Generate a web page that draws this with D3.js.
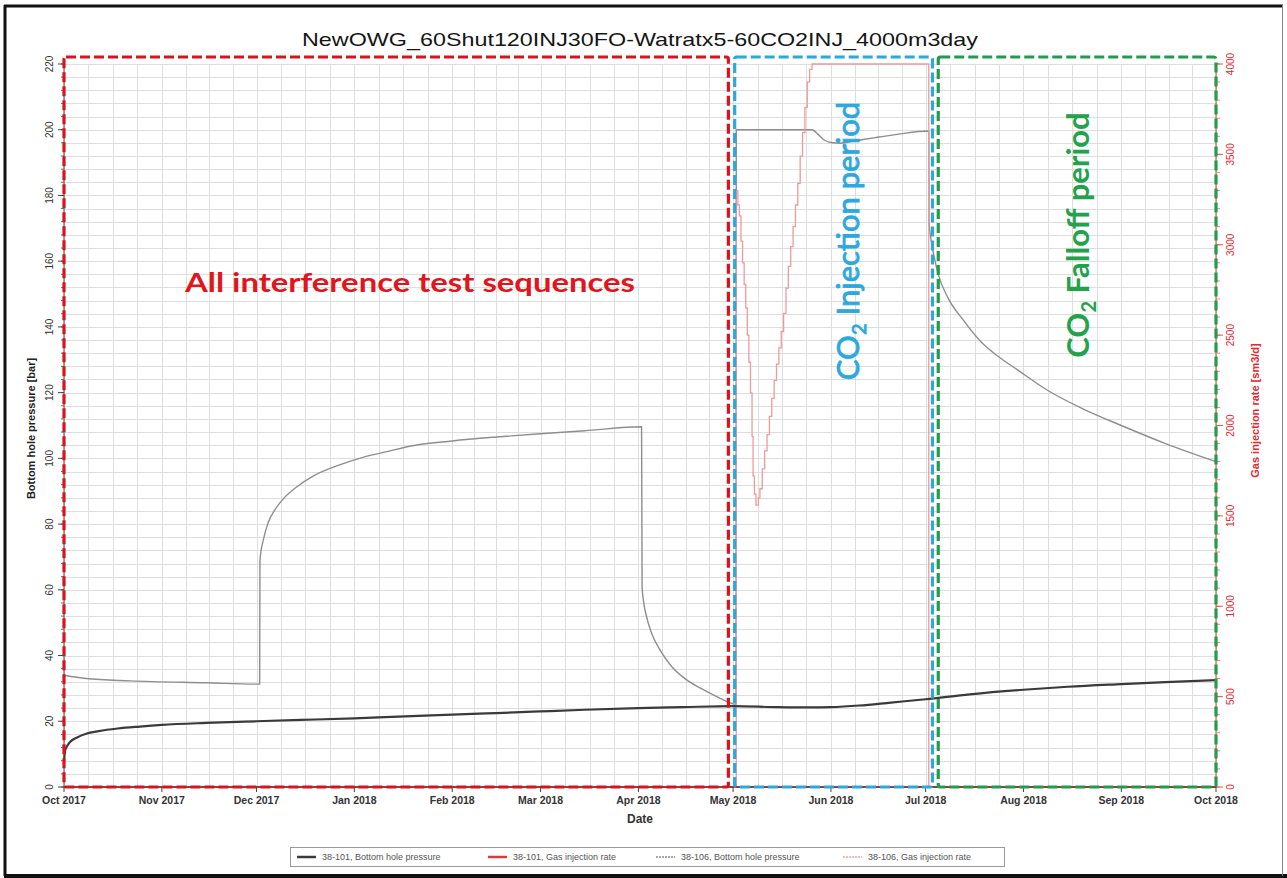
<!DOCTYPE html>
<html>
<head>
<meta charset="utf-8">
<script src="https://cdn.jsdelivr.net/npm/d3@7/dist/d3.min.js"></script>
<style>
  html, body { margin: 0; padding: 0; background: #fff; }
  svg { display: block; }
</style>
</head>
<body>
<svg id="chart" width="1287" height="878"></svg>
<script>
// ---- Data -------------------------------------------------------------
const chartTitle = "NewOWG_60Shut120INJ30FO-Watratx5-60CO2INJ_4000m3day";

// 38-101 bottom hole pressure [bar]
const bhp101 = [
  ["2017-10-01T00:00", 7.5], ["2017-10-01T08:00", 11.0], ["2017-10-02", 12.5],
  ["2017-10-03", 13.8], ["2017-10-05", 15.0], ["2017-10-08", 16.2],
  ["2017-10-12", 17.0], ["2017-10-18", 17.8], ["2017-10-25", 18.4],
  ["2017-11-01", 18.9], ["2017-11-15", 19.5], ["2017-12-01", 20.0],
  ["2017-12-15", 20.4], ["2018-01-01", 20.9], ["2018-01-15", 21.4],
  ["2018-02-01", 22.0], ["2018-02-15", 22.5], ["2018-03-01", 23.0],
  ["2018-03-15", 23.5], ["2018-04-01", 24.0], ["2018-04-15", 24.3],
  ["2018-05-01", 24.6], ["2018-05-15", 24.3], ["2018-05-25", 24.2],
  ["2018-06-01", 24.3], ["2018-06-10", 24.8], ["2018-06-20", 25.7],
  ["2018-07-01", 26.7], ["2018-07-15", 28.2], ["2018-08-01", 29.6],
  ["2018-08-15", 30.5], ["2018-09-01", 31.3], ["2018-09-15", 31.9],
  ["2018-10-01", 32.5]
];

// 38-101 gas injection rate [sm3/d]
const rate101 = [["2017-10-01", 0], ["2018-10-01", 0]];

// 38-106 bottom hole pressure [bar]
const bhp106 = [
  ["2017-10-01", 34.0], ["2017-10-08", 33.0], ["2017-10-22", 32.3],
  ["2017-11-15", 31.7], ["2017-12-02", 31.3],
  ["2017-12-02T02:00", 69.0], ["2017-12-03T05:00", 75.4], ["2017-12-04T17:00", 80.5],
  ["2017-12-06T22:00", 84.5], ["2017-12-10", 88.2], ["2017-12-13T17:00", 91.3],
  ["2017-12-18T22:00", 94.6], ["2017-12-26T10:00", 97.7], ["2018-01-03T17:00", 100.3],
  ["2018-01-12", 102.2], ["2018-01-18T12:00", 103.7], ["2018-02-01", 105.3],
  ["2018-02-15", 106.5], ["2018-03-01", 107.5], ["2018-03-15", 108.4],
  ["2018-04-02", 109.6],
  ["2018-04-02T04:00", 61.0], ["2018-04-02T14:00", 56.8], ["2018-04-03T14:00", 51.8],
  ["2018-04-05T05:00", 46.7], ["2018-04-07T22:00", 41.6], ["2018-04-11T14:00", 36.6],
  ["2018-04-16T07:00", 32.6], ["2018-04-21T14:00", 29.6], ["2018-04-26T22:00", 27.0],
  ["2018-05-01T22:00", 25.2],
  ["2018-05-02", 200.0], ["2018-05-26", 200.0], ["2018-05-28", 198.5],
  ["2018-05-30", 196.8], ["2018-06-01", 196.1], ["2018-06-04", 195.9],
  ["2018-06-08", 196.5], ["2018-06-15", 197.6], ["2018-06-22", 198.6],
  ["2018-07-02", 199.6],
  ["2018-07-02T02:00", 172.0], ["2018-07-03", 165.0], ["2018-07-04", 160.0],
  ["2018-07-05", 156.0], ["2018-07-08", 149.0], ["2018-07-13", 142.0],
  ["2018-07-19", 135.0], ["2018-07-24", 131.0], ["2018-07-30", 127.0],
  ["2018-08-09", 120.5], ["2018-08-20", 115.0], ["2018-09-01", 110.0],
  ["2018-09-15", 104.5], ["2018-10-01", 99.0]
];

// 38-106 gas injection rate [sm3/d] (piecewise constant)
const rate106 = [
  ["2017-10-01", 0],
  ["2018-05-02T00:00", 3300], ["2018-05-02T12:00", 3220], ["2018-05-03T00:00", 3160],
  ["2018-05-03T12:00", 3020], ["2018-05-04T00:00", 2900], ["2018-05-04T12:00", 2780],
  ["2018-05-05T00:00", 2650], ["2018-05-05T12:00", 2500], ["2018-05-06T00:00", 2350],
  ["2018-05-06T12:00", 2180], ["2018-05-07T00:00", 1940], ["2018-05-07T08:00", 1720],
  ["2018-05-07T18:00", 1620], ["2018-05-08T06:00", 1560],
  ["2018-05-09T00:00", 1600], ["2018-05-09T12:00", 1650], ["2018-05-10T06:00", 1760],
  ["2018-05-11T00:00", 1860], ["2018-05-11T18:00", 1950], ["2018-05-12T12:00", 2050],
  ["2018-05-13T06:00", 2150], ["2018-05-14T00:00", 2250], ["2018-05-14T18:00", 2340],
  ["2018-05-15T12:00", 2430], ["2018-05-16T06:00", 2520], ["2018-05-17T00:00", 2620],
  ["2018-05-17T18:00", 2760], ["2018-05-18T12:00", 2880], ["2018-05-19T06:00", 2990],
  ["2018-05-20T00:00", 3100], ["2018-05-20T18:00", 3220], ["2018-05-21T12:00", 3340],
  ["2018-05-22T06:00", 3490], ["2018-05-23T00:00", 3620], ["2018-05-23T18:00", 3760],
  ["2018-05-24T12:00", 3900], ["2018-05-25T06:00", 3970], ["2018-05-26T00:00", 4000],
  ["2018-07-02T00:00", 0], ["2018-10-01", 0]
];

const pressureTicks = d3.range(0, 221, 20);
const rateTicks = d3.range(0, 4001, 500);
const xDomain = ["2017-10-01", "2018-10-01"];

// Highlighted periods
const periods = [
  { name: "interference", start: "2017-10-01", end: "2018-04-29T12:00", color: "#d7141d" },
  { name: "injection",    start: "2018-05-01T12:00", end: "2018-07-03T04:00", color: "#2aa8e0" },
  { name: "falloff",      start: "2018-07-05T00:00", end: "2018-10-01", color: "#239b4c" }
];

const legendItems = [
  { label: "38-101, Bottom hole pressure", color: "#3a3a3a", width: 2.5, dash: null },
  { label: "38-101, Gas injection rate",   color: "#e0393c", width: 2.5, dash: null },
  { label: "38-106, Bottom hole pressure", color: "#8c8c8c", width: 1.5, dash: "2,1" },
  { label: "38-106, Gas injection rate",   color: "#f2a0a0", width: 1.5, dash: "2,1" }
];

// ---- Setup ------------------------------------------------------------
const parseT = s => d3.utcParse("%Y-%m-%dT%H:%M")(s.length === 10 ? s + "T00:00" : s);
const toPts = arr => arr.map(([t, v]) => ({ t: parseT(t), v }));

const svg = d3.select("#chart");
const plot = { left: 64, right: 1216, top: 64, bottom: 787 };

const x = d3.scaleUtc().domain(xDomain.map(parseT)).range([plot.left, plot.right]);
const yP = d3.scaleLinear().domain([0, 220]).range([plot.bottom, plot.top]);
const yR = d3.scaleLinear().domain([0, 4000]).range([plot.bottom, plot.top]);

// outer frame
svg.append("rect").attr("x", 0).attr("y", 0).attr("width", 1287).attr("height", 878).attr("fill", "#fff");
svg.append("line").attr("x1", 5).attr("x2", 5).attr("y1", 5).attr("y2", 876).attr("stroke", "#111").attr("stroke-width", 3);
svg.append("line").attr("x1", 4).attr("x2", 1283).attr("y1", 6).attr("y2", 6).attr("stroke", "#111").attr("stroke-width", 3);
svg.append("line").attr("x1", 4).attr("x2", 1287).attr("y1", 876).attr("y2", 876).attr("stroke", "#111").attr("stroke-width", 4);
svg.append("line").attr("x1", 1282.5).attr("x2", 1282.5).attr("y1", 5).attr("y2", 876).attr("stroke", "#888").attr("stroke-width", 1);

// title
svg.append("text")
  .attr("x", 640).attr("y", 46)
  .attr("text-anchor", "middle")
  .attr("font-family", "Liberation Sans, Arial, sans-serif")
  .attr("font-size", 19).attr("fill", "#151515")
  .attr("textLength", 676).attr("lengthAdjust", "spacingAndGlyphs")
  .text(chartTitle);

// ---- Grid -------------------------------------------------------------
const grid = svg.append("g").attr("stroke", "#dedede").attr("stroke-width", 1).attr("shape-rendering", "crispEdges");
const months = d3.utcMonth.range(x.domain()[0], x.domain()[1]);
const vGrid = [];
months.forEach(m => {
  const next = d3.utcMonth.offset(m, 1);
  for (let k = 0; k < 4; k++) vGrid.push(new Date(+m + k * (next - m) / 4));
});
vGrid.push(x.domain()[1]);
grid.selectAll("line.v").data(vGrid).join("line")
  .attr("x1", d => Math.round(x(d)) + 0.5).attr("x2", d => Math.round(x(d)) + 0.5)
  .attr("y1", plot.top).attr("y2", plot.bottom);
grid.selectAll("line.h").data(d3.range(0, 221, 4)).join("line")
  .attr("y1", d => Math.round(yP(d)) + 0.5).attr("y2", d => Math.round(yP(d)) + 0.5)
  .attr("x1", plot.left).attr("x2", plot.right);

// ---- Series -----------------------------------------------------------
const lineP = d3.line().x(d => x(d.t)).y(d => yP(d.v)).curve(d3.curveMonotoneX);
const lineR = d3.line().x(d => x(d.t)).y(d => yR(d.v)).curve(d3.curveStepAfter);

svg.append("path").datum(toPts(bhp106)).attr("d", lineP)
  .attr("fill", "none").attr("stroke", "#8e8e8e").attr("stroke-width", 1.4);
svg.append("path").datum(toPts(rate106)).attr("d", lineR)
  .attr("fill", "none").attr("stroke", "#f09a9a").attr("stroke-width", 1.3);
svg.append("path").datum(toPts(rate101)).attr("d", lineR)
  .attr("fill", "none").attr("stroke", "#e0393c").attr("stroke-width", 2);
svg.append("path").datum(toPts(bhp101)).attr("d", lineP)
  .attr("fill", "none").attr("stroke", "#3a3a3a").attr("stroke-width", 2.2);

// ---- Axes -------------------------------------------------------------
const axisFont = "Liberation Sans, Arial, sans-serif";

// left pressure axis
const gL = svg.append("g").attr("transform", `translate(${plot.left},0)`);
gL.append("line").attr("y1", plot.top).attr("y2", plot.bottom).attr("stroke", "#444");
gL.selectAll("line.mn").data(d3.range(0, 221, 4)).join("line")
  .attr("x1", -3).attr("x2", 0).attr("y1", d => yP(d)).attr("y2", d => yP(d)).attr("stroke", "#666");
gL.selectAll("line.mj").data(pressureTicks).join("line")
  .attr("x1", -6).attr("x2", 0).attr("y1", d => yP(d)).attr("y2", d => yP(d)).attr("stroke", "#444");
gL.selectAll("text").data(pressureTicks).join("text")
  .attr("transform", d => `translate(-11,${yP(d)}) rotate(-90)`)
  .attr("text-anchor", "middle")
  .attr("font-family", axisFont).attr("font-size", 10).attr("fill", "#333")
  .text(d => d);

svg.append("text")
  .attr("transform", `translate(35,${(plot.top + plot.bottom) / 2 + 3}) rotate(-90)`)
  .attr("text-anchor", "middle")
  .attr("font-family", axisFont).attr("font-size", 11).attr("font-weight", "bold").attr("fill", "#222")
  .text("Bottom hole pressure [bar]");

// right rate axis
const gR = svg.append("g").attr("transform", `translate(${plot.right},0)`);
gR.append("line").attr("y1", plot.top).attr("y2", plot.bottom).attr("stroke", "#e0393c");
gR.selectAll("line.mn").data(d3.range(0, 4001, 100)).join("line")
  .attr("x1", 0).attr("x2", 4).attr("y1", d => yR(d)).attr("y2", d => yR(d)).attr("stroke", "#ee8a6a");
gR.selectAll("line.mj").data(rateTicks).join("line")
  .attr("x1", 0).attr("x2", 7).attr("y1", d => yR(d)).attr("y2", d => yR(d)).attr("stroke", "#e55a3a");
gR.selectAll("text").data(rateTicks).join("text")
  .attr("transform", d => `translate(18,${yR(d)}) rotate(-90)`)
  .attr("text-anchor", "middle")
  .attr("font-family", axisFont).attr("font-size", 10).attr("fill", "#e8262b")
  .text(d => d);

svg.append("text")
  .attr("transform", `translate(1259,${(plot.top + plot.bottom) / 2 - 15}) rotate(-90)`)
  .attr("text-anchor", "middle")
  .attr("font-family", axisFont).attr("font-size", 11).attr("font-weight", "bold").attr("fill", "#e8262b")
  .text("Gas injection rate [sm3/d]");

// bottom date axis
const monthTicks = d3.utcMonth.range(x.domain()[0], d3.utcDay.offset(x.domain()[1], 1));
const gB = svg.append("g").attr("transform", `translate(0,${plot.bottom})`);
gB.append("line").attr("x1", plot.left).attr("x2", plot.right).attr("stroke", "#444");
gB.selectAll("line.t").data(monthTicks).join("line")
  .attr("x1", d => x(d)).attr("x2", d => x(d)).attr("y1", 0).attr("y2", 5).attr("stroke", "#444");
gB.selectAll("text").data(monthTicks).join("text")
  .attr("x", d => x(d)).attr("y", 17)
  .attr("text-anchor", "middle")
  .attr("font-family", axisFont).attr("font-size", 10.5).attr("font-weight", "bold").attr("fill", "#333")
  .text(d3.utcFormat("%b %Y"));

svg.append("text")
  .attr("x", 640).attr("y", 823)
  .attr("text-anchor", "middle")
  .attr("font-family", axisFont).attr("font-size", 12).attr("font-weight", "bold").attr("fill", "#333")
  .text("Date");

// ---- Highlighted periods ---------------------------------------------
svg.selectAll("rect.period").data(periods).join("rect")
  .attr("class", "period")
  .attr("x", d => x(parseT(d.start)))
  .attr("y", 57)
  .attr("width", d => x(parseT(d.end)) - x(parseT(d.start)))
  .attr("height", plot.bottom - 57)
  .attr("rx", 2)
  .attr("fill", "none")
  .attr("stroke", d => d.color)
  .attr("stroke-width", 3.2)
  .attr("stroke-dasharray", "10,4");

// period annotations
svg.append("text")
  .attr("x", 410).attr("y", 292)
  .attr("text-anchor", "middle")
  .attr("font-family", "Lato, 'Open Sans', sans-serif")
  .attr("font-size", 27).attr("font-weight", "bold").attr("fill", "#e3141c")
  .attr("textLength", 450).attr("lengthAdjust", "spacingAndGlyphs")
  .text("All interference test sequences");

function rotatedCO2(cx, cy, rest, color, family, size, weight, outline) {
  const t = svg.append("text")
    .attr("transform", `translate(${cx},${cy}) rotate(-90)`)
    .attr("text-anchor", "middle")
    .attr("font-family", family)
    .attr("font-size", size).attr("font-weight", weight).attr("fill", color)
    .attr("stroke", outline ? color : null).attr("stroke-width", outline || null);
  t.append("tspan").text("CO");
  t.append("tspan").attr("font-size", Math.round(size * 0.65)).attr("dy", 7).text("2");
  t.append("tspan").attr("dy", -7).text(" " + rest);
  return t;
}
rotatedCO2(859, 241, "Injection period", "#2aa8e0", "Lato, 'Open Sans', sans-serif", 31, "normal", 0.8);
rotatedCO2(1089, 235, "Falloff period", "#22a24a", "Lato, 'Open Sans', sans-serif", 31, "bold", 0);

// ---- Legend -----------------------------------------------------------
const lg = svg.append("g");
lg.append("rect").attr("x", 290.5).attr("y", 847.5).attr("width", 714).attr("height", 19)
  .attr("fill", "#fff").attr("stroke", "#9a9a9a");
const legendX = [297, 488, 656, 843];
legendItems.forEach((it, i) => {
  const lx = legendX[i];
  lg.append("line").attr("x1", lx).attr("x2", lx + 19).attr("y1", 857).attr("y2", 857)
    .attr("stroke", it.color).attr("stroke-width", it.width)
    .attr("stroke-dasharray", it.dash);
  lg.append("text").attr("x", lx + 25).attr("y", 860)
    .attr("font-family", axisFont).attr("font-size", 9).attr("fill", "#555")
    .text(it.label);
});
</script>
</body>
</html>
